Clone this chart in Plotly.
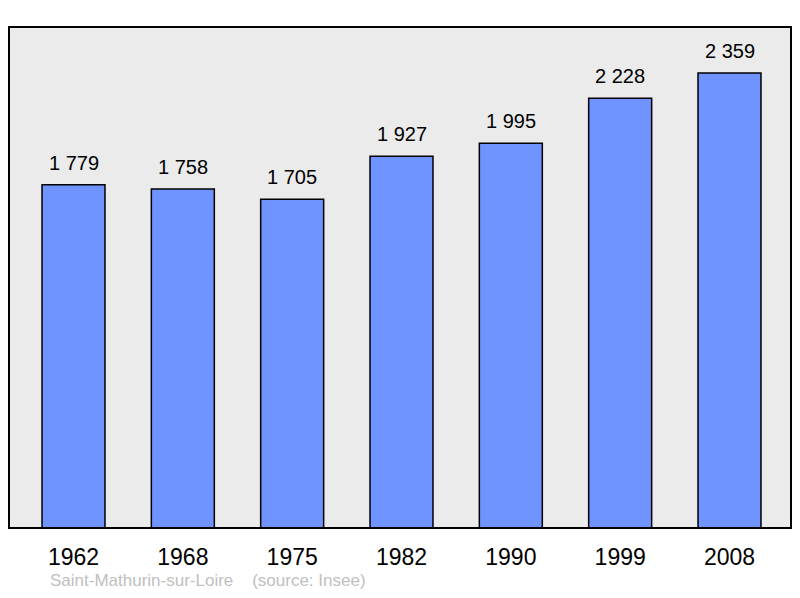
import plotly.graph_objects as go

years = ["1962", "1968", "1975", "1982", "1990", "1999", "2008"]
population = [1779, 1758, 1705, 1927, 1995, 2228, 2359]
commune = "Saint-Mathurin-sur-Loire"
source = "(source: Insee)"

FONT = "Liberation Sans, Arial, sans-serif"
# page body has an 8px margin; the figure is sized to fit the 800x598 window
W, H = 784, 582
L, R, T, B = 1, 1, 19, 62
plot_h = H - T - B

fig = go.Figure()
fig.add_trace(go.Bar(
    x=list(range(len(years))), y=population,
    width=0.576,
    marker=dict(color="#7094ff", line=dict(color="#000000", width=1.5)),
    hoverinfo="skip",
))

for i, v in enumerate(population):
    fig.add_annotation(
        x=i, y=v, xref="x", yref="y",
        text=f"{v:,}".replace(",", " "),
        showarrow=False, yanchor="bottom", yshift=9,
        font=dict(family=FONT, size=20, color="#000000"),
    )

fig.add_annotation(
    x=(40 - L) / (W - L - R), y=-(572 - (H - B)) / plot_h,
    xref="paper", yref="paper",
    text=commune + "&nbsp;&nbsp;&nbsp;&nbsp;" + source,
    showarrow=False, xanchor="left", yanchor="middle",
    font=dict(family=FONT, size=17, color="#c0c0c0"),
)

fig.add_shape(
    type="rect", xref="paper", yref="paper", x0=0, x1=1, y0=0, y1=1,
    line=dict(color="#000000", width=2), fillcolor="rgba(0,0,0,0)", layer="above",
)

fig.update_layout(
    width=W, height=H,
    margin=dict(l=L, r=R, t=T, b=B),
    paper_bgcolor="#ffffff", plot_bgcolor="#ebebeb",
    showlegend=False,
    xaxis=dict(
        range=[-0.59, 6.5625], tickmode="array",
        tickvals=list(range(len(years))), ticktext=years,
        showgrid=False, zeroline=False, showline=False,
        ticks="outside", ticklen=8, tickcolor="rgba(0,0,0,0)",
        tickfont=dict(family=FONT, size=23, color="#000000"),
    ),
    yaxis=dict(
        range=[0, 2597.5], showgrid=False, zeroline=False,
        showticklabels=False, showline=False,
    ),
)

fig.write_html("out.html")
